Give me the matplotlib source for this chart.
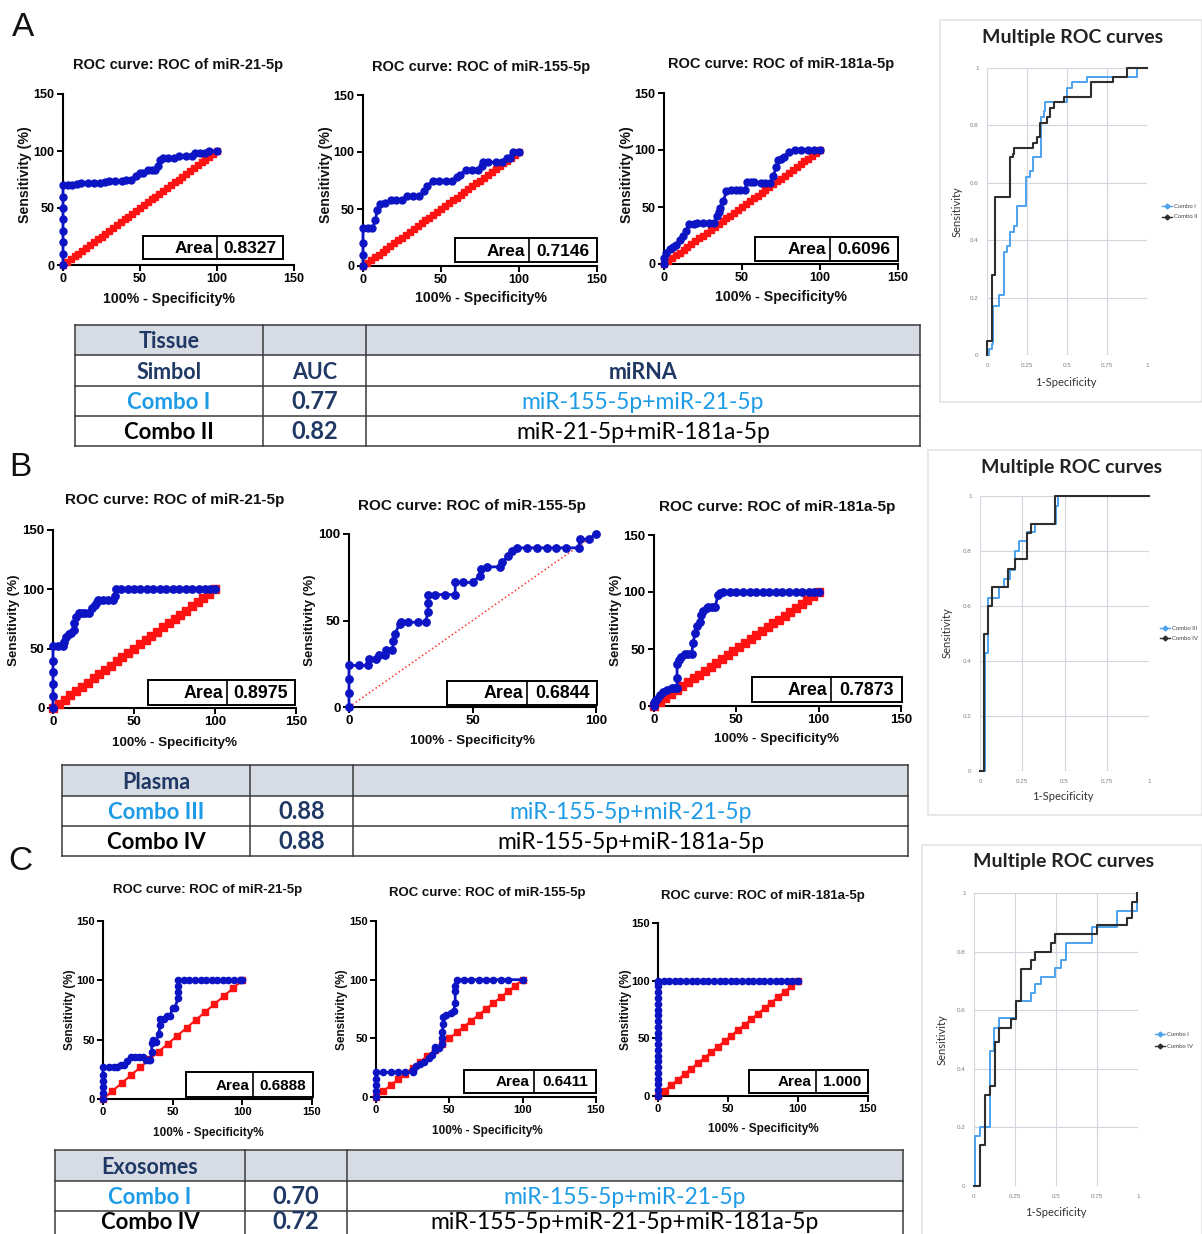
import numpy as np
import matplotlib
matplotlib.use("Agg")
import matplotlib.pyplot as plt
from matplotlib.patches import Rectangle

plt.rcParams['font.family'] = ['Liberation Sans', 'DejaVu Sans']

# ======================= DATA =======================
mirnas = ['miR-21-5p', 'miR-155-5p', 'miR-181a-5p']

# ---- Panel A : tissue (100% - specificity %, sensitivity %) ----
A21_fpr = [0, 0, 0, 0, 0, 0, 0, 0, 3, 6, 9, 12, 16, 20, 24, 27, 30, 34, 38, 41, 44, 47.5, 50, 52,
           55, 58, 60, 61.5, 63, 65, 68, 72, 75, 80, 84, 86, 89, 92, 95, 100]
A21_sens = [0, 10, 20, 30, 40, 50, 60, 70, 70, 70, 71, 72, 72, 72, 72, 73, 74, 74, 74, 75, 75, 78, 81, 81,
            83, 83, 83, 87, 92, 94, 94, 94, 96, 96, 96, 98, 98, 98, 100, 100]
A155_fpr = [0, 0, 0, 0, 3, 6, 8, 9, 11, 14, 18, 21, 25, 28, 32, 36, 39, 41, 45, 49, 53, 57, 60, 62,
            66, 70, 74, 76, 77, 80, 85, 89, 92, 94, 96, 100]
A155_sens = [0, 10, 20, 33, 33, 33, 40, 49, 54, 55, 58, 58, 58, 61, 61, 61, 66, 70, 75, 75, 75, 75, 78, 80,
             84, 84, 84, 88, 91, 91, 91, 91, 95, 95, 100, 100]
A181_fpr = [0, 0, 1.5, 4, 6, 8, 10, 12, 14, 16, 19, 21, 25, 29, 32, 34, 35, 36, 38, 40, 43, 46, 49, 52,
            53, 56, 58, 62, 65, 68, 70, 72, 73, 75, 77, 80, 84, 88, 92, 96, 100]
A181_sens = [0, 5, 10, 13, 15, 17, 21, 25, 29, 35, 35, 36, 36, 36, 36, 42, 46, 49, 55, 64, 65, 65, 65, 65,
             72, 72, 72, 71, 71, 71, 77, 85, 91, 92, 94, 98, 100, 100, 100, 100, 100]
area_A = ['0.8327', '0.7146', '0.6096']

# ---- Panel B : plasma ----
B21_fpr = [0, 0, 0, 0, 0, 0, 3, 6, 7, 8, 10, 11, 13, 13, 14, 16, 18, 20, 22, 24, 26, 27, 28, 31, 34, 37,
           38, 39, 42, 46, 50, 54, 58, 62, 66, 70, 74, 78, 82, 86, 90, 94, 97, 100]
B21_sens = [0, 10, 20, 30, 40, 52, 52, 52, 56, 60, 62, 63, 66, 72, 77, 80, 80, 80, 80, 84, 87, 89, 91, 91,
            91, 91, 94, 100, 100, 100, 100, 100, 100, 100, 100, 100, 100, 100, 100, 100, 100, 100, 100, 100]
B155_fpr = [0, 0, 0, 0, 4, 7.7, 8, 11, 12, 14.5, 15, 17.6, 18, 18.5, 20.5, 21, 24, 28, 31, 32, 32, 32,
            35, 39, 43, 43, 46, 50, 53, 53.6, 56, 61, 62, 64.5, 66, 68, 72, 76, 80, 84, 88, 93, 93.5, 97, 100]
B155_sens = [0, 8, 16, 24, 24, 24, 28, 28, 30, 30, 33, 33, 38, 42, 48, 49, 49, 49, 49, 55, 60, 65,
             65, 65, 65, 72, 72, 72, 76, 80, 81, 81, 84, 87, 90, 92, 92, 92, 92, 92, 92, 92, 97, 97, 100]
B181_fpr = [0, 0, 0.6, 2, 3.6, 5.5, 7.7, 10.7, 12.5, 14, 14, 14, 15, 16.7, 18.8, 20.8, 22.8, 23.8, 24.8, 26,
            27.8, 28.8, 30, 31.9, 33, 35, 37, 39, 40, 42, 46, 50, 54, 58, 62, 66, 70, 74, 78, 82,
            86, 90, 94, 97, 100]
B181_sens = [0, 3, 4, 6, 9.6, 12, 14, 16, 16, 16, 25, 37, 40, 43, 46, 46, 46, 55, 64, 70,
             74, 80, 83, 86, 87, 87, 87, 97, 99, 100, 100, 100, 100, 100, 100, 100, 100, 100, 100, 100,
             100, 100, 100, 100, 100]
area_B = ['0.8975', '0.6844', '0.7873']

# ---- Panel C : exosomes ----
C21_fpr = [0, 0, 0, 0, 0, 0, 4, 8, 10, 13, 15, 17, 20, 23, 26, 29, 31, 33, 34, 35, 35, 36, 38, 40, 41, 41,
           44, 46, 48, 50, 51.5, 54, 54, 54, 54, 58, 62, 66, 70, 74, 78, 82, 86, 90, 94, 98, 100]
C21_sens = [0, 5, 10, 15, 20, 27, 27, 27, 27, 29, 29, 32, 35, 35, 35, 35, 33, 33, 33, 40, 47, 50, 48, 55, 62, 67,
            67, 70, 70, 77, 77, 85, 90, 95, 100, 100, 100, 100, 100, 100, 100, 100, 100, 100, 100, 100, 100]
C155_fpr = [0, 0, 0, 0, 0, 5, 10, 15, 20, 25, 25, 27, 30, 33, 36, 38, 40, 40, 43, 45, 45, 45, 46, 46, 48,
            51, 53, 54, 54, 54, 55, 60, 65, 70, 75, 80, 85, 90, 100]
C155_sens = [0, 5, 10, 15, 21, 21, 21, 21, 21, 21, 23, 26, 28, 30, 33, 36, 40, 43, 42, 45, 50, 55, 62, 68, 70,
             72, 73, 80, 90, 95, 100, 100, 100, 100, 100, 100, 100, 100, 100]
C181_fpr = [0, 0, 0, 0, 0, 0, 0, 0, 0, 0, 0, 0, 0, 0, 0, 0, 0, 0, 0, 0, 0, 0,
            4, 8, 12, 16, 20, 24, 28, 32, 36, 40, 44, 48, 52, 56, 60, 64, 68, 72, 76, 80, 84, 88, 92, 96, 100]
C181_sens = [0, 5, 10, 15, 20, 25, 30, 35, 40, 45, 50, 55, 60, 65, 70, 75, 80, 85, 90, 95, 98, 100,
             100, 100, 100, 100, 100, 100, 100, 100, 100, 100, 100, 100, 100, 100, 100, 100, 100, 100, 100,
             100, 100, 100, 100, 100, 100]
area_C = ['0.6888', '0.6411', '1.000']

# number of markers on the red line of identity, per plot
diag_marks_A = [41, 41, 41]
diag_marks_B = [29, 0, 30]
diag_marks_C = [16, 21, 22]

# ---- Multiple ROC curves (1-specificity, sensitivity), step vertices ----
mA_c1_x = [0, 0.01, 0.01, 0.03, 0.03, 0.037, 0.037, 0.077, 0.077, 0.104, 0.104, 0.125, 0.125, 0.146, 0.146,
           0.167, 0.167, 0.19, 0.19, 0.244, 0.244, 0.267, 0.267, 0.29, 0.29, 0.337, 0.337, 0.354, 0.354,
           0.365, 0.365, 0.5, 0.5, 0.53, 0.53, 0.625, 0.625, 0.94, 0.94, 1]
mA_c1_y = [0, 0, 0.02, 0.02, 0.04, 0.04, 0.17, 0.17, 0.21, 0.21, 0.36, 0.36, 0.38, 0.38, 0.43,
           0.43, 0.45, 0.45, 0.52, 0.52, 0.62, 0.62, 0.64, 0.64, 0.69, 0.69, 0.83, 0.83, 0.85,
           0.85, 0.88, 0.88, 0.93, 0.93, 0.95, 0.95, 0.97, 0.97, 1.0, 1.0]
mA_c2_x = [0, 0, 0.03, 0.03, 0.048, 0.048, 0.146, 0.146, 0.16, 0.16, 0.17, 0.17, 0.29, 0.29, 0.31, 0.31,
           0.333, 0.333, 0.375, 0.375, 0.395, 0.395, 0.42, 0.42, 0.48, 0.48, 0.65, 0.65, 0.79, 0.79,
           0.875, 0.875, 1]
mA_c2_y = [0, 0.05, 0.05, 0.28, 0.28, 0.55, 0.55, 0.69, 0.69, 0.70, 0.70, 0.72, 0.72, 0.74, 0.74, 0.76,
           0.76, 0.81, 0.81, 0.83, 0.83, 0.86, 0.86, 0.88, 0.88, 0.90, 0.90, 0.95, 0.95, 0.97,
           0.97, 1.0, 1.0]
mB_c3_x = [0, 0.03, 0.03, 0.045, 0.045, 0.112, 0.112, 0.142, 0.142, 0.178, 0.178, 0.207, 0.207, 0.233,
           0.233, 0.28, 0.28, 0.325, 0.325, 0.45, 0.45, 0.464, 0.464, 1]
mB_c3_y = [0, 0, 0.43, 0.43, 0.63, 0.63, 0.67, 0.67, 0.70, 0.70, 0.73, 0.73, 0.80, 0.80,
           0.835, 0.835, 0.87, 0.87, 0.90, 0.90, 0.965, 0.965, 1.0, 1.0]
mB_c4_x = [0, 0.025, 0.025, 0.05, 0.05, 0.073, 0.073, 0.165, 0.165, 0.207, 0.207, 0.28, 0.28, 0.30,
           0.30, 0.444, 0.444, 1]
mB_c4_y = [0, 0, 0.5, 0.5, 0.6, 0.6, 0.67, 0.67, 0.735, 0.735, 0.77, 0.77, 0.865, 0.865,
           0.9, 0.9, 1.0, 1.0]
mC_c1_x = [0, 0.005, 0.005, 0.035, 0.035, 0.1, 0.1, 0.122, 0.122, 0.15, 0.15, 0.258, 0.258, 0.345, 0.345,
           0.374, 0.374, 0.407, 0.407, 0.496, 0.496, 0.528, 0.528, 0.563, 0.563, 0.72, 0.72, 0.874,
           0.874, 0.995, 0.995]
mC_c1_y = [0, 0, 0.17, 0.17, 0.20, 0.20, 0.46, 0.46, 0.54, 0.54, 0.575, 0.575, 0.63, 0.63, 0.66,
           0.66, 0.69, 0.69, 0.715, 0.715, 0.745, 0.745, 0.77, 0.77, 0.83, 0.83, 0.885, 0.885,
           0.94, 0.94, 1.0]
mC_c4_x = [0, 0.035, 0.035, 0.065, 0.065, 0.095, 0.095, 0.126, 0.126, 0.15, 0.15, 0.228, 0.228, 0.256,
           0.256, 0.285, 0.285, 0.345, 0.345, 0.374, 0.374, 0.47, 0.47, 0.496, 0.496, 0.75, 0.75, 0.93,
           0.93, 0.963, 0.963, 0.995, 0.995]
mC_c4_y = [0, 0, 0.14, 0.14, 0.31, 0.31, 0.34, 0.34, 0.49, 0.49, 0.54, 0.54, 0.57, 0.57,
           0.63, 0.63, 0.74, 0.74, 0.77, 0.77, 0.80, 0.80, 0.83, 0.83, 0.86, 0.86, 0.89, 0.89,
           0.915, 0.915, 0.97, 0.97, 1.0]
legend_A = ['Combo I', 'Combo II']
legend_B = ['Combo III', 'Combo IV']
legend_C = ['Combo I', 'Combo IV']

# ---- Tables ----
table_heads = ['Tissue', 'Plasma', 'Exosomes']
col_heads = ['Simbol', 'AUC', 'miRNA']
tissue_combo = ['Combo I', 'Combo II']
tissue_auc = ['0.77', '0.82']
tissue_mirna = ['miR-155-5p+miR-21-5p', 'miR-21-5p+miR-181a-5p']
plasma_combo = ['Combo III', 'Combo IV']
plasma_auc = ['0.88', '0.88']
plasma_mirna = ['miR-155-5p+miR-21-5p', 'miR-155-5p+miR-181a-5p']
exo_combo = ['Combo I', 'Combo IV']
exo_auc = ['0.70', '0.72']
exo_mirna = ['miR-155-5p+miR-21-5p', 'miR-155-5p+miR-21-5p+miR-181a-5p']

# ======================= FIGURE =======================
W, H = 1202, 1234
fig = plt.figure(figsize=(W / 100, H / 100), dpi=100)

BLUE = '#0c14c4'
RED = '#ff1212'
NAVY = '#1f3864'
LBLUE = '#1e9be6'
GRAYHEAD = '#d6dbe4'


def ax_px(x0, x1, ybot, ytop):
    return fig.add_axes([x0 / W, 1 - ybot / H, (x1 - x0) / W, (ybot - ytop) / H])


def roc(geom, fpr, sens, nd, xmax, ymax, tfs, ms):
    ax = ax_px(*geom)
    ax.patch.set_alpha(0)
    if nd > 0:
        d = np.linspace(0, 100, nd)
        ax.plot(d, d, '-s', color=RED, lw=1.5, ms=ms, clip_on=False, zorder=3)
    else:
        ax.plot([0, 100], [0, 100], ':', color='#ff3030', lw=1.1, zorder=3)
    ax.plot(fpr, sens, '-o', color=BLUE, lw=2.0, ms=ms, clip_on=False, zorder=4)
    ax.set_xlim(0, xmax)
    ax.set_ylim(0, ymax)
    ax.set_xticks(np.arange(0, xmax + 1, 50))
    ax.set_yticks(np.arange(0, ymax + 1, 50))
    for s in ['top', 'right']:
        ax.spines[s].set_visible(False)
    for s in ['left', 'bottom']:
        ax.spines[s].set_linewidth(1.5)
    ax.tick_params(direction='out', length=4, width=1.4, labelsize=tfs, pad=2)
    plt.setp(ax.get_xticklabels() + ax.get_yticklabels(), fontweight='bold')
    return ax


# ROC axes geometry: (x of 0, x of max, y of 0, y of max) in pixels
rocA = [(63, 294, 265, 94), (363, 597, 266, 95), (664, 898, 264, 93)]
rocB = [(53, 296, 708, 530), (349, 596, 707, 534), (654, 901, 706, 535)]
rocC = [(103, 312, 1099, 921), (376, 596, 1097, 921), (658, 868, 1096, 923)]

for g, f, s, n in zip(rocA, [A21_fpr, A155_fpr, A181_fpr], [A21_sens, A155_sens, A181_sens], diag_marks_A):
    roc(g, f, s, n, 150, 150, 9, 5)
for i, (g, f, s, n) in enumerate(zip(rocB, [B21_fpr, B155_fpr, B181_fpr], [B21_sens, B155_sens, B181_sens], diag_marks_B)):
    mx = 100 if i == 1 else 150
    roc(g, f, s, n, mx, mx, 9.5, 5.3)
for g, f, s, n in zip(rocC, [C21_fpr, C155_fpr, C181_fpr], [C21_sens, C155_sens, C181_sens], diag_marks_C):
    roc(g, f, s, n, 150, 150, 8, 4.5)


# multiple ROC axes
def multi(geom, xb, yb, xk, yk):
    ax = ax_px(*geom)
    ax.set_xlim(0, 1)
    ax.set_ylim(0, 1)
    ax.set_xticks([0, 0.25, 0.5, 0.75, 1])
    ax.set_xticklabels(['0', '0.25', '0.5', '0.75', '1'])
    ax.set_yticks([0, 0.2, 0.4, 0.6, 0.8, 1])
    ax.set_yticklabels(['0', '0.2', '0.4', '0.6', '0.8', '1'])
    ax.grid(True, color='#cfd6e0', lw=0.8)
    for s in ax.spines.values():
        s.set_visible(False)
    ax.tick_params(length=0, labelsize=4.5, labelcolor='#808080', pad=6)
    ax.plot(xb, yb, color='#4da3ee', lw=1.4, zorder=3, clip_on=False)
    ax.plot(xk, yk, color='#2e2e2e', lw=1.5, zorder=4, clip_on=False)
    return ax


multi((987, 1147, 355, 68), mA_c1_x, mA_c1_y, mA_c2_x, mA_c2_y)
multi((980, 1149, 771, 496), mB_c3_x, mB_c3_y, mB_c4_x, mB_c4_y)
multi((974, 1138, 1186, 893), mC_c1_x, mC_c1_y, mC_c4_x, mC_c4_y)

# ================= overlay in pixel coordinates =================
ov = fig.add_axes([0, 0, 1, 1], zorder=10)
ov.set_xlim(0, W)
ov.set_ylim(H, 0)
ov.axis('off')
ov.patch.set_alpha(0)

# panel letters
for lt, (x, y) in zip(['A', 'B', 'C'], [(23, 28), (20, 467), (20, 862)]):
    ov.text(x, y, lt, fontsize=24, ha='center', va='center', color='#111111')

# titles, axis labels
titleA = [(178, 65), (481, 67), (781, 64)]
titleB = [(175, 500), (472, 506), (777, 507)]
titleC = [(208, 890), (487, 893), (763, 896)]
xlabA = [(169, 299), (481, 298), (781, 297)]
xlabB = [(175, 743), (472, 741), (777, 739)]
xlabC = [(208, 1133), (487, 1131), (763, 1129)]
ylabA = [(25, 175), (326, 175), (627, 175)]
ylabB = [(14, 620), (310, 620), (616, 620)]
ylabC = [(70, 1010), (342, 1010), (626, 1010)]
for tl, xl, yl, tfs, lfs in [(titleA, xlabA, ylabA, 10.5, 10.2), (titleB, xlabB, ylabB, 11, 9.6),
                             (titleC, xlabC, ylabC, 9.5, 8.5)]:
    for m, t, x, y in zip(mirnas, tl, xl, yl):
        ov.text(t[0], t[1], 'ROC curve: ROC of ' + m, fontsize=tfs, fontweight='bold',
                ha='center', va='center', color='#111111')
        ov.text(x[0], x[1], '100% - Specificity%', fontsize=lfs, fontweight='bold',
                ha='center', va='center', color='#111111')
        ov.text(y[0], y[1], 'Sensitivity (%)', fontsize=lfs, fontweight='bold', rotation=90,
                ha='center', va='center', color='#111111')

# area boxes: (left, divider, right, top, bottom)
boxes = [(143, 217, 283, 236, 259), (455, 529, 597, 238, 262), (755, 830, 898, 237, 261),
         (148, 227, 295, 680, 705), (447, 527, 597, 681, 705), (752, 831, 902, 677, 702),
         (186, 253, 313, 1072, 1097), (464, 534, 596, 1070, 1093), (749, 816, 868, 1070, 1093)]
afs = [12.5, 12.5, 12.5, 12.8, 12.8, 12.8, 11, 11, 11]
for (l, dv, r, t, b), val, fs in zip(boxes, area_A + area_B + area_C, afs):
    ov.add_patch(Rectangle((l, t), r - l, b - t, fc='white', ec='black', lw=1.4))
    ov.plot([dv, dv], [t, b], color='black', lw=1.2)
    ov.text(dv - 4, (t + b) / 2 + 1, 'Area', fontsize=fs, fontweight='bold', ha='right', va='center')
    ov.text((dv + r) / 2, (t + b) / 2 + 1, val, fontsize=fs, fontweight='bold', ha='center', va='center')

# multiple ROC cards and texts
cards = [(940, 20, 1202, 402), (928, 450, 1202, 815), (922, 845, 1202, 1240)]
mtitles = [(1073, 38), (1072, 467), (1064, 862)]
mxl = [(1066, 382), (1063, 797), (1056, 1213)]
myl = [(957, 212), (947, 633), (942, 1040)]
legpos = [(1162, 206, 217), (1160, 628, 638), (1155, 1034, 1046)]
for (x0, y0, x1, y1), tt, xl, yl, lp, labs in zip(cards, mtitles, mxl, myl, legpos,
                                                   [legend_A, legend_B, legend_C]):
    ov.add_patch(Rectangle((x0, y0), x1 - x0, y1 - y0, fc='none', ec='#e4e4e4', lw=1.2))
    ov.text(tt[0], tt[1], 'Multiple ROC curves', fontsize=14, fontweight='bold', family='Lato',
            ha='center', va='center', color='#222222')
    ov.text(xl[0], xl[1], '1-Specificity', fontsize=8, family='Lato', ha='center', va='center',
            color='#333333')
    ov.text(yl[0], yl[1], 'Sensitivity', fontsize=8, family='Lato', ha='center', va='center',
            rotation=90, color='#333333')
    lx, ya, yb = lp
    for yy, lab, col in [(ya, labs[0], '#4da3ee'), (yb, labs[1], '#2e2e2e')]:
        ov.plot([lx, lx + 10], [yy, yy], color=col, lw=1.0)
        ov.plot([lx + 5], [yy], marker='D', ms=2.5, color=col)
        ov.text(lx + 12, yy, lab, fontsize=4.3, family='Lato', ha='left', va='center', color='#444444')


# tables
def table(x0, c1, c2, x1, tops, head, subhead, combos, aucs, mirs):
    ov.add_patch(Rectangle((x0, tops[0]), x1 - x0, tops[1] - tops[0], fc=GRAYHEAD, ec='none'))
    for t in tops:
        ov.plot([x0, x1], [t, t], color='#3a3a3a', lw=1.1)
    for x in (x0, c1, c2, x1):
        ov.plot([x, x], [tops[0], tops[-1]], color='#3a3a3a', lw=1.1)
    cx = [(x0 + c1) / 2, (c1 + c2) / 2, (c2 + x1) / 2]
    base = lambda i: tops[i + 1] - 7
    ov.text(cx[0], base(0), head, fontsize=15.5, fontweight='bold', family='Lato', color=NAVY,
            ha='center', va='baseline')
    r = 1
    if subhead:
        for c, s in zip(cx, subhead):
            ov.text(c, base(r), s, fontsize=15.5, fontweight='bold', family='Lato', color=NAVY,
                    ha='center', va='baseline')
        r += 1
    for i, (cb, au, mi) in enumerate(zip(combos, aucs, mirs)):
        col = LBLUE if i == 0 else 'black'
        yb = base(r) if r + 1 < len(tops) - 0 or True else base(r)
        yb = min(yb, 1229)
        ov.text(cx[0], yb, cb, fontsize=16, fontweight='bold', family='Lato', color=col,
                ha='center', va='baseline')
        ov.text(cx[1], yb, au, fontsize=17, fontweight='bold', family='Lato', color=NAVY,
                ha='center', va='baseline')
        ov.text(cx[2], yb, mi, fontsize=16.5, family='Lato', color=col, ha='center', va='baseline')
        r += 1


table(75, 263, 366, 920, [325, 355, 386, 416, 446], table_heads[0], col_heads,
      tissue_combo, tissue_auc, tissue_mirna)
table(62, 250, 353, 908, [765, 796, 826, 856], table_heads[1], None,
      plasma_combo, plasma_auc, plasma_mirna)
table(55, 245, 347, 903, [1150, 1181, 1211, 1242], table_heads[2], None,
      exo_combo, exo_auc, exo_mirna)

fig.savefig('out.png', dpi=100)
